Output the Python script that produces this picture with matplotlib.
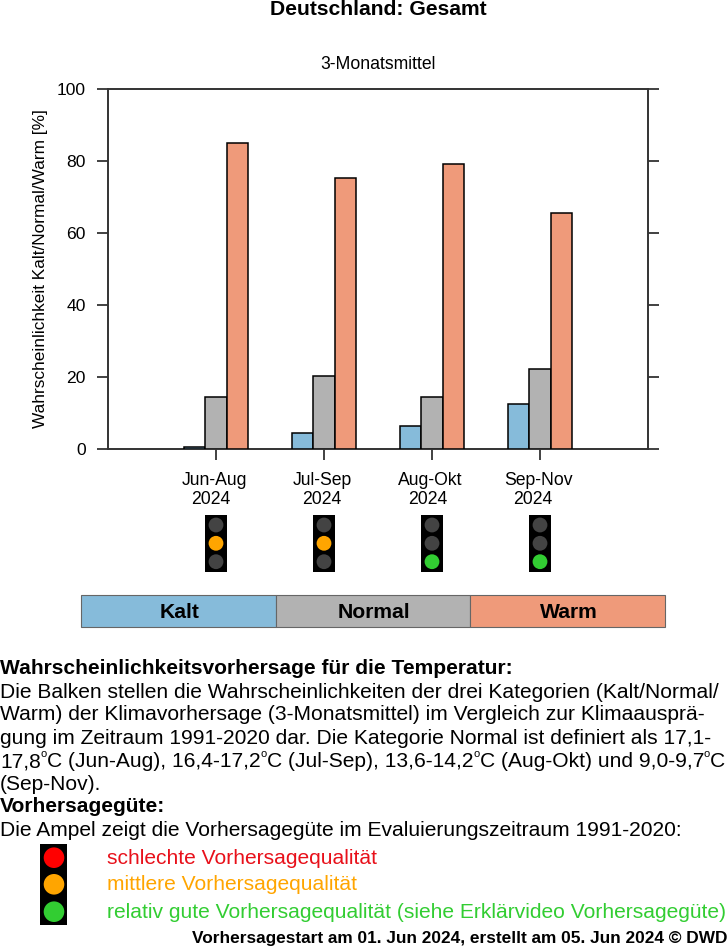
import matplotlib
matplotlib.use("Agg")
import matplotlib.pyplot as plt
from matplotlib.patches import Rectangle, Circle
import numpy as np

plt.rcParams["font.family"] = ["Liberation Sans", "DejaVu Sans"]

months = ["Jun-Aug", "Jul-Sep", "Aug-Okt", "Sep-Nov"]
years = ["2024", "2024", "2024", "2024"]
month_x = [214, 322, 430, 538.5]
year_x = [211, 322, 427.5, 533]
kalt = [0.6, 4.5, 6.5, 12.5]
normal = [14.4, 20.3, 14.4, 22.2]
warm = [85.0, 75.2, 79.2, 65.5]
# index of the lit lamp per period: 0 red, 1 orange, 2 green
quality = [1, 1, 2, 2]

col_kalt = "#86BBDA"
col_normal = "#B2B2B2"
col_warm = "#EF9A7A"
lamp_on = ["#FF0000", "#FFA500", "#32CD32"]
lamp_off = "#434343"
axis_col = "#333333"

W, H = 728, 948
fig = plt.figure(figsize=(W / 100, H / 100), dpi=100)

# main bar panel
ax = fig.add_axes([108 / W, 1 - 449 / H, 540 / W, 360 / H])
pos = np.arange(1, 5)
bw = 0.2
for off, vals, c in [(-bw, kalt, col_kalt), (0, normal, col_normal), (bw, warm, col_warm)]:
    ax.bar(pos + off, vals, bw, color=c, edgecolor="black", linewidth=1.1, zorder=3)
ax.set_xlim(0, 5)
ax.set_ylim(0, 100)
ax.set_yticks([0, 20, 40, 60, 80, 100])
ax.set_xticks(pos)
ax.set_xticklabels([])
ax.tick_params(axis="y", which="both", left=True, right=True, length=8, width=1.3,
               color=axis_col, labelsize=12.6, pad=8)
ax.tick_params(axis="x", length=8, width=1.3, color=axis_col)
for s in ax.spines.values():
    s.set_color(axis_col)
    s.set_linewidth(1.4)
ax.set_ylabel("Wahrscheinlichkeit Kalt/Normal/Warm [%]", fontsize=12.4, labelpad=6)

# overlay in pixel coordinates for everything below the panel
ov = fig.add_axes([0, 0, 1, 1])
ov.set_xlim(0, W)
ov.set_ylim(H, 0)
ov.axis("off")
ov.patch.set_alpha(0)

ov.text(378, 9, "Deutschland: Gesamt", ha="center", va="center", fontsize=15.2, fontweight="bold")
ov.text(378, 64, "3-Monatsmittel", ha="center", va="center", fontsize=12.7)

for i in range(4):
    ov.text(month_x[i], 480, months[i], ha="center", va="center", fontsize=12.7)
    ov.text(year_x[i], 499, years[i], ha="center", va="center", fontsize=12.7)
    cx = pos[i] * 108 + 108
    ov.add_patch(Rectangle((cx - 11, 515), 22, 57, facecolor="black", edgecolor="none"))
    for k, cy in enumerate([525, 543.3, 561.7]):
        ov.add_patch(Circle((cx, cy), 7.4, facecolor=lamp_on[k] if k == quality[i] else lamp_off,
                            edgecolor="none"))

# category strip
cat_names = ["Kalt", "Normal", "Warm"]
cat_cols = [col_kalt, col_normal, col_warm]
cat_edges = [81, 276, 470, 665]
for i in range(3):
    ov.add_patch(Rectangle((cat_edges[i], 595), cat_edges[i + 1] - cat_edges[i], 32,
                           facecolor=cat_cols[i], edgecolor="#666666", linewidth=0.8))
    ov.text((cat_edges[i] + cat_edges[i + 1]) / 2 + 1, 612, cat_names[i], ha="center",
            va="center", fontsize=15.2, fontweight="bold")

# explanatory text block
body = [
    (669, "Wahrscheinlichkeitsvorhersage für die Temperatur:", "bold"),
    (692, "Die Balken stellen die Wahrscheinlichkeiten der drei Kategorien (Kalt/Normal/", "normal"),
    (715, "Warm) der Klimavorhersage (3-Monatsmittel) im Vergleich zur Klimaausprä-", "normal"),
    (738, "gung im Zeitraum 1991-2020 dar. Die Kategorie Normal ist definiert als 17,1-", "normal"),
    (785, "(Sep-Nov).", "normal"),
    (807, "Vorhersagegüte:", "bold"),
    (831, "Die Ampel zeigt die Vorhersagegüte im Evaluierungszeitraum 1991-2020:", "normal"),
]
for y, line, weight in body:
    ov.text(0, y, line, ha="left", va="center", fontsize=15.15, fontweight=weight)

# the line with degree signs is laid out piece by piece, each "o" raised and small
deg_parts = ["17,8", "C (Jun-Aug), 16,4-17,2", "C (Jul-Sep), 13,6-14,2", "C (Aug-Okt) und 9,0-9,7", "C"]
deg_y = 767
renderer = fig.canvas.get_renderer()
x = 0
for n, part in enumerate(deg_parts):
    t = ov.text(x, deg_y, part, ha="left", va="baseline", fontsize=15.15)
    x = t.get_window_extent(renderer).x1
    if n < len(deg_parts) - 1:
        s = ov.text(x, deg_y - 10, "o", ha="left", va="baseline", fontsize=8)
        x = s.get_window_extent(renderer).x1

# traffic light key
ov.add_patch(Rectangle((40, 844), 27, 81, facecolor="black", edgecolor="none"))
key_text = ["schlechte Vorhersagequalität", "mittlere Vorhersagequalität",
            "relativ gute Vorhersagequalität (siehe Erklärvideo Vorhersagegüte)"]
key_cols = ["#E8101A", "#FFA500", "#32CD32"]
for k, (cy, ty) in enumerate(zip([857.7, 884.3, 911.7], [859, 885, 912])):
    ov.add_patch(Circle((54, cy), 10.3, facecolor=lamp_on[k], edgecolor="none"))
    ov.text(107, ty, key_text[k], ha="left", va="center", fontsize=15.15, color=key_cols[k])

ov.text(727, 939, "Vorhersagestart am 01. Jun 2024, erstellt am 05. Jun 2024 © DWD", ha="right",
        va="center", fontsize=12.4, fontweight="bold")

fig.savefig("out.png", dpi=100)
